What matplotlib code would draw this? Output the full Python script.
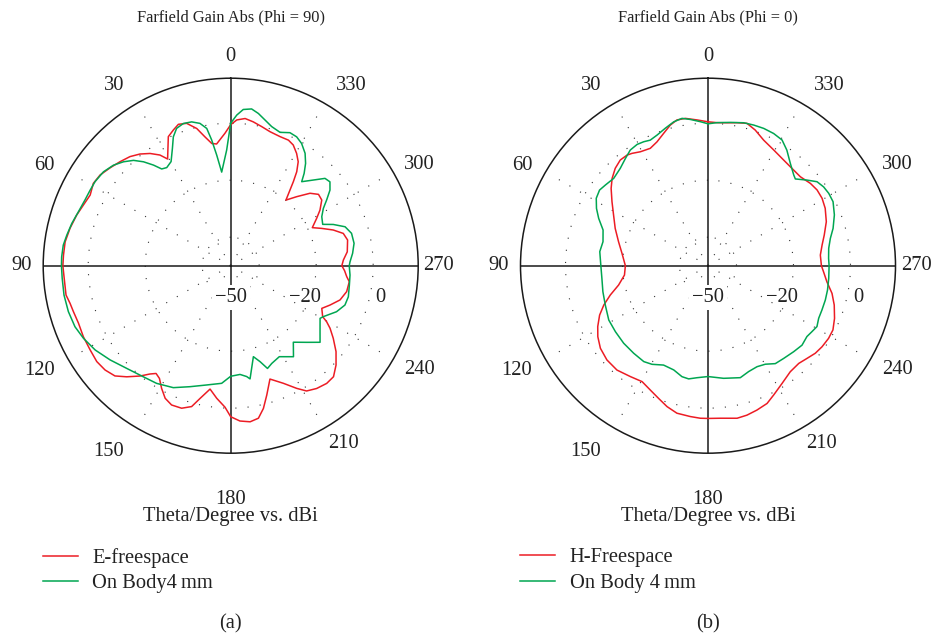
import numpy as np
import matplotlib
matplotlib.use("Agg")
import matplotlib.pyplot as plt

plt.rcParams['font.family'] = ['Liberation Serif', 'DejaVu Serif']

# ---------------- data (theta in degrees, gain in dBi) ----------------
e_free_theta = [0, 2.5, 6.6, 8.8, 11.3, 13.9, 17.2, 20.3, 22.9, 25.8, 30.6, 32.6, 35.7, 39.1,
                42.7, 46.8, 50.9, 55.2, 59.1, 63.3, 67.6, 71.8, 76.9, 81.8, 86.4, 90,
                94.3, 100.1, 103.2, 106.3, 110.7, 115.7, 120.9, 125.6, 129.7, 133.6, 136.9,
                140.6, 143.3, 145.3, 147.7, 150.6, 153.7, 157.0, 161.0, 164.5, 167.0, 170.5,
                174.0, 177.7, 180,
                183.4, 187.1, 190.3, 192.9, 195.6, 199.1, 204.1, 208.3, 211.2, 215.0, 219.2,
                222.8, 226.7, 230.8, 234.7, 237.8, 239.7, 241.0, 244.9, 248.4, 252.6, 257.4,
                262.3, 264.6, 267.5, 270,
                272.9, 276.8, 282.4, 286.0, 289.2, 292.3, 295.0, 298.8, 301.9, 305.8, 309.1,
                312.4, 316.3, 319.9, 321.6, 323.3, 324.9, 327.0, 329.6, 332.6, 335.3, 339.1,
                343.6, 347.4, 351.1, 354.4, 357.6]
e_free_gain = [-0.5, -3.5, -7.0, -6.6, -3.9, -0.4, 2.3, 2.9, 1.7, 0.3, -6.5, -3.9, -1.5, 0.5,
               2.1, 3.3, 4.5, 5.8, 6.2, 5.2, 5.9, 6.9, 7.9, 8.7, 8.8, 8.9,
               8.6, 8.7, 7.9, 7.5, 7.1, 7.4, 7.5, 7.8, 7.3, 6.1, 3.4,
               0.1, -2.6, -4.0, -3.2, -0.6, 1.9, 3.1, 2.9, 1.3, -2.2, -6.1,
               -3.2, -0.3, 3.0,
               4.6, 5.2, 4.4, 1.4, -2.9, -7.9, -4.8, -1.1, 1.4, 2.6, 3.3,
               3.1, 0.8, -2.3, -5.9, -8.8, -11.0, -13.1, -14.7, -12.5, -9.8, -8.3,
               -8.0, -9.1, -10.0, -11.0,
               -10.4, -8.8, -8.0, -8.9, -11.9, -15.5, -18.4, -15.6, -13.1, -10.6, -10.3,
               -12.3, -16.5, -19.9, -16.9, -13.2, -9.7, -6.5, -4.3, -2.3, -1.5, -1.5,
               -1.0, 0.0, 1.1, 1.9, 1.2]

body_a_theta = [0, 2.0, 5.5, 7.2, 8.6, 9.9, 12.2, 15.2, 18.4, 21.5, 24.0, 26.4, 29.8, 33.1,
                35.5, 37.5, 40.0, 42.7, 45.9, 49.4, 53.6, 58.2, 61.7, 65.7, 70.5, 75.1,
                79.4, 83.0, 87.0, 90,
                94.3, 100.0, 105.8, 111.4, 116.3, 121.9, 128.0, 134.6, 141.8, 147.8, 154.8,
                161.4, 168.6, 175.6, 180,
                184.9, 188.2, 189.7, 194.0, 197.0, 199.7, 202.8, 208.1, 214.6, 219.3, 224.8,
                229.4, 234.1, 239.5, 241.2, 246.5, 251.0, 255.2, 260.7, 265.5, 270,
                271.9, 275.8, 280.3, 285.0, 288.8, 291.9, 294.2, 298.3, 301.7, 304.4, 307.3,
                310.2, 312.8, 316.0, 319.8, 321.5, 323.8, 326.5, 329.9, 332.9, 336.0, 339.7,
                343.6, 346.7, 349.7, 352.4, 355.4, 357.7]
body_a_gain = [0.0, -9.4, -17.0, -10.9, -5.4, -1.1, 1.1, 2.3, 2.6, 1.8, -0.5, -4.0, -7.9, -8.9,
               -8.3, -5.5, -2.4, 0.3, 2.4, 4.2, 5.5, 6.0, 6.0, 6.1, 6.7, 7.7,
               8.5, 9.2, 9.4, 9.4,
               9.3, 9.4, 9.2, 8.7, 7.6, 6.0, 3.7, 1.3, -0.4, -1.2, -2.7,
               -5.2, -7.3, -8.6, -11.2,
               -11.7, -10.7, -9.7, -17.1, -14.8, -11.7, -12.8, -13.8, -11.2, -15.3, -12.1,
               -8.7, -11.3, -13.6, -12.9, -9.5, -7.6, -7.3, -7.8, -8.0, -8.4,
               -8.1, -7.0, -6.0, -6.1, -7.6, -11.2, -14.6, -13.7, -11.8, -9.2, -6.2,
               -4.4, -4.9, -8.2, -11.4, -8.6, -5.5, -2.7, -0.4, 0.8, 1.1, -0.1,
               0.9, 2.5, 4.3, 5.5, 5.0, 2.9]

h_free_theta = [0, 4.3, 8.7, 12.0, 15.0, 18.5, 22.4, 26.2, 30.7, 34.1, 36.2, 39.7, 43.6, 47.7,
                51.4, 56.3, 61.8, 68.1, 75.0, 81.8, 90,
                96.4, 102.2, 106.7, 110.7, 114.5, 118.9, 122.8, 127.5, 133.0, 138.9, 145.0,
                150.4, 155.1, 159.6, 163.8, 168.1, 173.3, 177.1, 180,
                184.6, 190.8, 194.6, 198.7, 203.2, 206.9, 212.2, 217.8, 222.9, 226.9, 230.8,
                234.6, 238.9, 242.8, 247.4, 252.7, 257.4, 262.3, 267.0, 270,
                275.4, 280.3, 284.8, 290.4, 296.1, 300.6, 304.8, 308.8, 313.9, 319.2, 324.4,
                330.4, 336.1, 340.8, 344.7, 348.5, 352.4, 356.4]
h_free_gain = [0.5, 1.3, 2.3, 2.3, 1.1, -1.0, -3.0, -4.1, -3.5, -2.4, -1.9, -1.8, -2.8, -4.5,
               -6.5, -9.5, -12.4, -14.9, -17.5, -19.5, -21.0,
               -20.5, -17.9, -14.2, -10.9, -8.2, -5.8, -4.0, -2.4, -1.5, -1.4, -2.5,
               -3.2, -1.9, -0.3, 1.5, 2.9, 3.3, 3.6, 3.6,
               3.7, 4.5, 4.2, 3.5, 2.6, 0.9, -1.2, -2.9, -3.2, -2.4, -1.4,
               -0.9, -0.6, -0.7, -1.9, -3.6, -5.4, -7.9, -9.4, -10.2,
               -10.4, -9.3, -7.8, -5.7, -4.2, -3.5, -3.4, -3.9, -5.0, -4.9, -4.4,
               -3.3, -1.8, 0.4, 1.8, 1.2, 0.6, 0.3]

body_b_theta = [0, 3.0, 6.9, 10.0, 13.4, 17.3, 21.3, 24.7, 27.4, 30.3, 33.9, 37.6, 42.0, 47.2,
                51.8, 55.1, 58.9, 62.8, 66.6, 71.2, 77.1, 82.6, 90,
                96.8, 103.9, 111.0, 118.7, 125.5, 132.6, 139.7, 146.2, 150.4, 155.9, 161.8,
                166.8, 170.3, 174.4, 180,
                187.9, 196.1, 201.0, 205.9, 210.2, 214.5, 219.2, 224.9, 229.8, 234.4, 237.6,
                240.8, 244.6, 248.7, 253.7, 258.5, 264.0, 270,
                273.5, 278.2, 282.6, 286.6, 291.9, 297.1, 300.9, 304.3, 307.6, 310.9, 314.8,
                316.6, 321.2, 325.7, 329.5, 333.6, 337.9, 342.0, 346.0, 351.1, 356.4]
body_b_gain = [-0.2, 0.6, 1.7, 2.5, 1.9, 0.5, -0.8, -1.5, -1.0, -0.7, -1.1, -2.5, -4.0, -4.9,
               -4.2, -3.6, -4.2, -6.0, -8.2, -11.1, -12.2, -11.7, -12.4,
               -12.5, -12.0, -11.4, -10.3, -10.1, -9.8, -9.7, -9.5, -10.2, -11.8, -11.5,
               -10.0, -9.7, -10.5, -11.1,
               -10.1, -9.1, -10.2, -10.6, -10.0, -8.3, -8.0, -7.4, -6.8, -7.3, -6.8,
               -6.2, -7.0, -7.1, -7.1, -7.2, -7.4, -7.5,
               -7.6, -7.2, -6.0, -4.2, -2.2, -0.7, -0.6, -0.9, -1.7, -4.1, -6.8,
               -6.2, -3.9, -0.9, 1.2, 1.8, 2.0, 1.9, 1.7, 0.9, 0.3]

angle_ticks = [0, 30, 60, 90, 120, 150, 180, 210, 240, 270, 300, 330]
gain_ticks = [-50, -20, 0]
ring_levels = [-40, -20, 0]

# ---------------- styling ----------------
R_MIN, R_MAX = -50.0, 15.8
RED = '#ec1c24'
GREEN = '#00a651'
FS = 14.8
W, H = 942, 639
R_PX = 187.5

# text offsets (pixels from the pole) of the angle labels
angle_label_offsets = {
    0: (0, 209), 30: (-117, 180), 60: (-186, 100), 90: (-209, 0),
    120: (-191, -105), 150: (-122, -186), 180: (0, -234), 210: (113, -178),
    240: (189, -104), 270: (208, 0), 300: (189, 101), 330: (121, 180),
}
# text offsets of the radial labels
gain_label_offsets = {-50: (0, -32), -20: (74, -32), 0: (150, -32)}


def closed(theta, gain):
    t = np.deg2rad(np.append(theta, theta[0] + 360.0))
    g = np.append(gain, gain[0])
    return t, g


def polar_panel(cx, cy, curves, labels, title, caption):
    rect = [(cx - R_PX) / W, (H - cy - R_PX) / H, 2 * R_PX / W, 2 * R_PX / H]
    ax = fig.add_axes(rect, projection='polar')
    ax.set_theta_zero_location('N')
    ax.set_theta_direction(1)
    ax.set_rlim(R_MIN, R_MAX)
    ax.grid(False)
    ax.set_xticks([])
    ax.set_yticks([])
    ax.spines['polar'].set_linewidth(1.1)
    ax.spines['polar'].set_color('#1a1a1a')

    # dotted rings and spokes
    ring_t = np.linspace(0, 2 * np.pi, 500)
    for lev in ring_levels:
        ax.plot(ring_t, np.full_like(ring_t, lev), color='#333333', lw=0.8,
                ls=(0, (1, 10)), zorder=1)
    for a in angle_ticks:
        if a % 90:
            ax.plot([np.deg2rad(a)] * 2, [R_MIN, R_MAX - 3], color='#333333', lw=0.8,
                    ls=(0, (1, 10)), zorder=1)
    # solid cross through the pole
    for a in (0, 90, 180, 270):
        ax.plot([np.deg2rad(a)] * 2, [R_MIN, R_MAX], color='#1a1a1a', lw=1.1, zorder=2)

    handles = []
    for (th, g), col, lab in zip(curves, (RED, GREEN), labels):
        t, r = closed(np.asarray(th, float), np.asarray(g, float))
        h, = ax.plot(t, r, color=col, lw=1.1, label=lab, zorder=4)
        handles.append(h)

    for a in angle_ticks:
        dx, dy = angle_label_offsets[a]
        ax.text(0.5 + dx / (2 * R_PX), 0.5 + dy / (2 * R_PX), str(a), transform=ax.transAxes,
                ha='center', va='center', fontsize=FS, color='#222222')
    for v in gain_ticks:
        dx, dy = gain_label_offsets[v]
        txt = str(v).replace('-', '\u2212')
        ax.text(0.5 + dx / (2 * R_PX), 0.5 + dy / (2 * R_PX), txt, transform=ax.transAxes,
                ha='center', va='center', fontsize=FS, color='#222222', zorder=5,
                bbox=dict(boxstyle='square,pad=0.15', fc='white', ec='none') if v == -50 else None)

    fig.text(cx / W, 1 - 17 / H, title, ha='center', va='center', fontsize=11.8, color='#222222')
    fig.text(cx / W, 1 - 517 / H, 'Theta/Degree vs. dBi', ha='center', va='center',
             fontsize=FS, color='#222222')
    fig.text(cx / W, 1 - 624 / H, caption, ha='center', va='center', fontsize=FS, color='#222222')
    ax.legend(handles=handles, loc='upper left', bbox_to_anchor=((cx - 188) / W, 1 - 548 / H),
              bbox_transform=fig.transFigure, frameon=False, fontsize=FS, borderpad=0,
              borderaxespad=0, handlelength=1.7, handletextpad=0.72, labelspacing=0.3,
              labelcolor='#222222')
    return ax


fig = plt.figure(figsize=(W / 100, H / 100), dpi=100)
fig.patch.set_facecolor('white')

polar_panel(230.7, 265.7,
            [(e_free_theta, e_free_gain), (body_a_theta, body_a_gain)],
            ['E-freespace', 'On Body4\u2009mm'],
            'Farfield Gain Abs (Phi = 90)', '(a)')
polar_panel(708.0, 265.7,
            [(h_free_theta, h_free_gain), (body_b_theta, body_b_gain)],
            ['H-Freespace', 'On Body 4\u2009mm'],
            'Farfield Gain Abs (Phi = 0)', '(b)')

fig.savefig('out.png', dpi=100, facecolor='white')
